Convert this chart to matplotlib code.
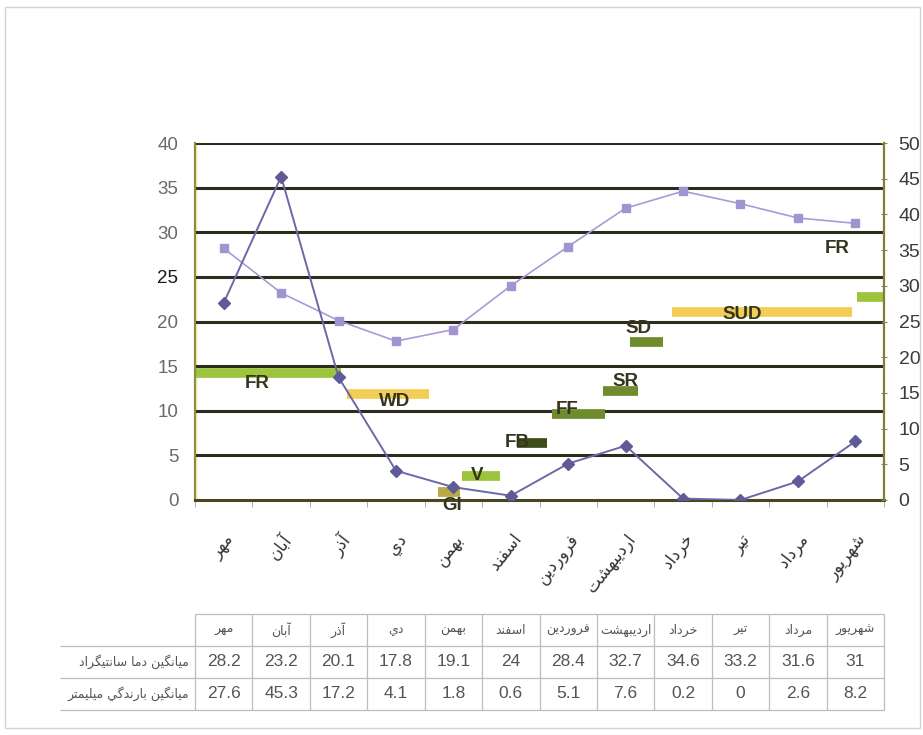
import matplotlib
matplotlib.use("Agg")
import matplotlib.pyplot as plt
from matplotlib.patches import Rectangle

plt.rcParams['font.family'] = ['Liberation Sans Narrow', 'Liberation Sans', 'DejaVu Sans']

# Persian month names (Mehr .. Shahrivar)
months = ['مهر', 'آبان', 'آذر', 'دي', 'بهمن', 'اسفند', 'فروردين',
          'ارديبهشت', 'خرداد', 'تير', 'مرداد', 'شهريور']
temp = [28.2, 23.2, 20.1, 17.8, 19.1, 24, 28.4, 32.7, 34.6, 33.2, 31.6, 31]
rain = [27.6, 45.3, 17.2, 4.1, 1.8, 0.6, 5.1, 7.6, 0.2, 0, 2.6, 8.2]
row_names = ['ميانگين دما سانتيگراد', 'ميانگين بارندگي ميليمتر']

# growth stages: name, start/end (month index), level on the left axis
phases = ['FR', 'WD', 'GI', 'V', 'FB', 'FF', 'SR', 'SD', 'SUD', 'FR']
ph_start = [-0.5, 2.15, 3.73, 4.15, 5.11, 5.72, 6.61, 7.08, 7.81, 11.03]
ph_end = [2.05, 3.58, 4.12, 4.81, 5.63, 6.64, 7.22, 7.65, 10.95, 11.5]
ph_level = [14.2, 11.9, 0.9, 2.7, 6.4, 9.6, 12.2, 17.7, 21.1, 22.8]

LGREEN, YELLOW, KHAKI, OLIVE, DARK = '#9cc43c', '#f3cd55', '#b9aa45', '#6f8c2c', '#3d4c19'
ph_color = [LGREEN, YELLOW, KHAKI, LGREEN, DARK, OLIVE, OLIVE, OLIVE, YELLOW, LGREEN]
ph_text_xy = [(0.58, 13.0), (2.98, 11.0), (3.98, -0.6), (4.41, 2.8), (5.12, 6.4),
              (5.98, 10.1), (6.99, 13.3), (7.22, 19.2), (9.03, 20.8), (10.68, 28.2)]

# joining forms (isolated, final, initial, medial) for the letters used
FORMS = {
    'ا': ('\uFE8D', '\uFE8E', None, None),
    'آ': ('\uFE81', '\uFE82', None, None),
    'ب': ('\uFE8F', '\uFE90', '\uFE91', '\uFE92'),
    'ت': ('\uFE95', '\uFE96', '\uFE97', '\uFE98'),
    'خ': ('\uFEA5', '\uFEA6', '\uFEA7', '\uFEA8'),
    'د': ('\uFEA9', '\uFEAA', None, None),
    'ذ': ('\uFEAB', '\uFEAC', None, None),
    'ر': ('\uFEAD', '\uFEAE', None, None),
    'ز': ('\uFEAF', '\uFEB0', None, None),
    'س': ('\uFEB1', '\uFEB2', '\uFEB3', '\uFEB4'),
    'ش': ('\uFEB5', '\uFEB6', '\uFEB7', '\uFEB8'),
    'ف': ('\uFED1', '\uFED2', '\uFED3', '\uFED4'),
    'ل': ('\uFEDD', '\uFEDE', '\uFEDF', '\uFEE0'),
    'م': ('\uFEE1', '\uFEE2', '\uFEE3', '\uFEE4'),
    'ن': ('\uFEE5', '\uFEE6', '\uFEE7', '\uFEE8'),
    'ه': ('\uFEE9', '\uFEEA', '\uFEEB', '\uFEEC'),
    'و': ('\uFEED', '\uFEEE', None, None),
    'ي': ('\uFEF1', '\uFEF2', '\uFEF3', '\uFEF4'),
    'گ': ('\uFB92', '\uFB93', '\uFB94', '\uFB95'),
}


def shape(s):
    out = []
    for i, ch in enumerate(s):
        f = FORMS.get(ch)
        if f is None:
            out.append(ch)
            continue
        prev = s[i - 1] if i > 0 else None
        nxt = s[i + 1] if i < len(s) - 1 else None
        jp = prev in FORMS and FORMS[prev][2] is not None
        jn = f[2] is not None and nxt in FORMS
        if jp and jn:
            out.append(f[3])
        elif jp:
            out.append(f[1])
        elif jn:
            out.append(f[2])
        else:
            out.append(f[0])
    return ''.join(reversed(out))


FA = ['DejaVu Sans']
W, H = 923, 735
fig = plt.figure(figsize=(W / 100, H / 100), dpi=100)
fig.add_artist(Rectangle((5 / W, 7 / H), 915 / W, 721 / H, transform=fig.transFigure,
                         fill=False, edgecolor='#d2d2d2', lw=1))

L, R, T, B = 195, 884, 143, 500
ax = fig.add_axes([L / W, 1 - B / H, (R - L) / W, (B - T) / H])
ax2 = ax.twinx()
x = list(range(12))

ax.set_xlim(-0.5, 11.5)
ax.set_ylim(0, 40)
ax2.set_ylim(0, 50)

# heavy horizontal grid
for yv in range(5, 41, 5):
    ax.axhline(yv, color='#2e2a1c', lw=2.2, zorder=1)
ax.axvspan(-0.5, -0.44, color='#f6f6d2', zorder=0, lw=0)

ax.spines['top'].set_visible(False)
ax2.spines['top'].set_visible(False)
ax.spines['left'].set_color('#8e8e40')
ax.spines['left'].set_linewidth(1.6)
ax2.spines['left'].set_visible(False)
ax.spines['bottom'].set_color('#4b4522')
ax.spines['bottom'].set_linewidth(2.2)
ax2.spines['bottom'].set_visible(False)
ax2.spines['right'].set_color('#7f7f3a')
ax2.spines['right'].set_linewidth(1.6)
ax.spines['right'].set_visible(False)

# stage bars and their labels
for name, x0, x1, lev, c, (tx, ty) in zip(phases, ph_start, ph_end, ph_level, ph_color, ph_text_xy):
    ax.hlines(lev, x0, x1, color=c, lw=7, capstyle='butt', zorder=2, clip_on=False)
    ax.text(tx, ty, name, ha='center', va='center', fontsize=13.5, fontweight='bold',
            color='#34351c', zorder=3, clip_on=False)

ax.plot(x, temp, color='#a99ad6', lw=1.2, marker='s', ms=6, mfc='#a294d0', mec='#a294d0', zorder=4)
ax2.plot(x, rain, color='#6c68a8', lw=1.4, marker='D', ms=6.5, mfc='#5e5b96', mec='#5e5b96', zorder=4)

ax.set_yticks(range(0, 41, 5))
ax.tick_params(axis='y', length=0, pad=12, labelsize=13.5, labelcolor='#6a6a6a')
for lbl in ax.get_yticklabels():
    if lbl.get_text() == '25':
        lbl.set_color('#1a1a1a')
ax2.set_yticks(range(0, 51, 5))
ax2.tick_params(axis='y', length=5, direction='inout', color='#8a8a50', pad=8,
                labelsize=14, labelcolor='#3a3a3a')

ax.set_xticks(x)
ax.set_xticklabels([shape(m) for m in months], rotation=52, ha='right',
                   rotation_mode='anchor', fontsize=12, family=FA, color='#333333')
ax.set_xticks([i - 0.5 for i in range(13)], minor=True)
ax.tick_params(axis='x', which='major', length=0, pad=22)
ax.tick_params(axis='x', which='minor', length=5, color='#a0a0a0')

# data table below the chart
tt, tb = 614, 710
tax = fig.add_axes([L / W, 1 - tb / H, (R - L) / W, (tb - tt) / H])
tax.set_xlim(-0.5, 11.5)
tax.set_ylim(3, 0)
tax.axis('off')
gc = '#bdbdbd'
tax.hlines(0, -0.5, 11.5, color=gc, lw=0.9, clip_on=False)
for yy in (1, 2, 3):
    tax.hlines(yy, -2.85, 11.5, color=gc, lw=0.9, clip_on=False)
for k in range(13):
    tax.vlines(k - 0.5, 0, 3, color=gc, lw=0.9, clip_on=False)
for i, m in enumerate(months):
    tax.text(i, 0.5, shape(m), ha='center', va='center', fontsize=9, family=FA, color='#555555')
    tax.text(i, 1.5, f'{temp[i]:g}', ha='center', va='center', fontsize=12.5, color='#555555')
    tax.text(i, 2.5, f'{rain[i]:g}', ha='center', va='center', fontsize=12.5, color='#555555')
for j, rn in enumerate(row_names):
    tax.text(-0.6, 1.5 + j, shape(rn), ha='right', va='center', fontsize=9, family=FA,
             color='#555555', clip_on=False)

fig.savefig('out.png', dpi=100)
